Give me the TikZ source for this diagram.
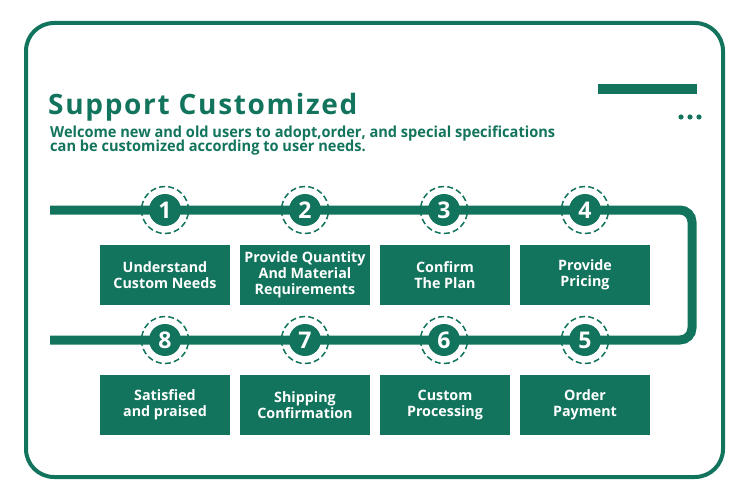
\documentclass[tikz,border=0pt]{standalone}
\usepackage{fontspec}
\setmainfont{Open Sans}
\newfontfamily\subfont[FakeStretch=0.96]{Open Sans}
\newfontfamily\titlefont[LetterSpace=6]{Open Sans}
\definecolor{brand}{RGB}{18,116,92}
\tikzset{
  stepbox/.style={fill=brand, minimum width=130pt, minimum height=60pt, inner sep=0pt,
    align=center, text=white, font=\bfseries\fontsize{14.3}{16}\selectfont},
  numdisk/.style={circle, fill=brand, minimum size=32pt, inner sep=0pt, text=white,
    font=\bfseries\fontsize{23}{23}\selectfont},
  ring/.style={draw=brand, line width=1.5pt, dash pattern=on 6pt off 3.2pt},
  track/.style={draw=brand, line width=9pt}
}
\begin{document}
\begin{tikzpicture}[x=1pt,y=-1pt]
\useasboundingbox (0,0) rectangle (750,500);
% frame
\draw[brand, line width=4pt, rounded corners=28pt] (26,23) rectangle (723,477);
% top-right decorations
\fill[brand] (598,84) rectangle (697,94);
\foreach \dx in {681,690,699} \fill[brand] (\dx,117) circle (2.6pt);
% title
\node[anchor=base west, inner sep=0pt, text=brand, font=\titlefont\bfseries\fontsize{28}{30}\selectfont] (title) at (48,115) {Support Customized};
\node[anchor=base west, inner sep=0pt, text=brand, font=\subfont\bfseries\fontsize{15.2}{15}\selectfont] (sub1) at (50,137.5) {Welcome new and old users to adopt,order, and special specifications};
\node[anchor=base west, inner sep=0pt, text=brand, font=\subfont\bfseries\fontsize{15.2}{15}\selectfont] (sub2) at (50,151.5) {can be customized according to user needs.};
% track
\coordinate (ts) at (50,210);
\coordinate (bs) at (50,340);
\coordinate (tr) at (692,210);
\coordinate (br) at (692,340);
\draw[track, rounded corners=12pt] (ts) -- (tr) -- (br) -- (bs);
% circles
\foreach \i/\x/\y in {1/165/210, 2/305/210, 3/444/210, 4/585/210, 8/165/340, 7/305/340, 6/444/340, 5/585/340} {
  \draw[ring] (\x,\y) circle (23.5pt);
  \node[numdisk] (n\i) at (\x,\y) {\i};
}
% boxes
\node[stepbox] (b1) at (165,275) {Understand\\Custom Needs};
\node[stepbox] (b2) at (305,275) {Provide Quantity\\And Material\\Requirements};
\node[stepbox] (b3) at (445,275) {Confirm\\The Plan};
\node[stepbox] (b4) at (585,275) {Provide\\Pricing};
\node[stepbox] (b8) at (165,405) {Satisfied\\and praised};
\node[stepbox] (b7) at (305,405) {Shipping\\Confirmation};
\node[stepbox] (b6) at (445,405) {Custom\\Processing};
\node[stepbox] (b5) at (585,405) {Order\\Payment};
\end{tikzpicture}
\end{document}
